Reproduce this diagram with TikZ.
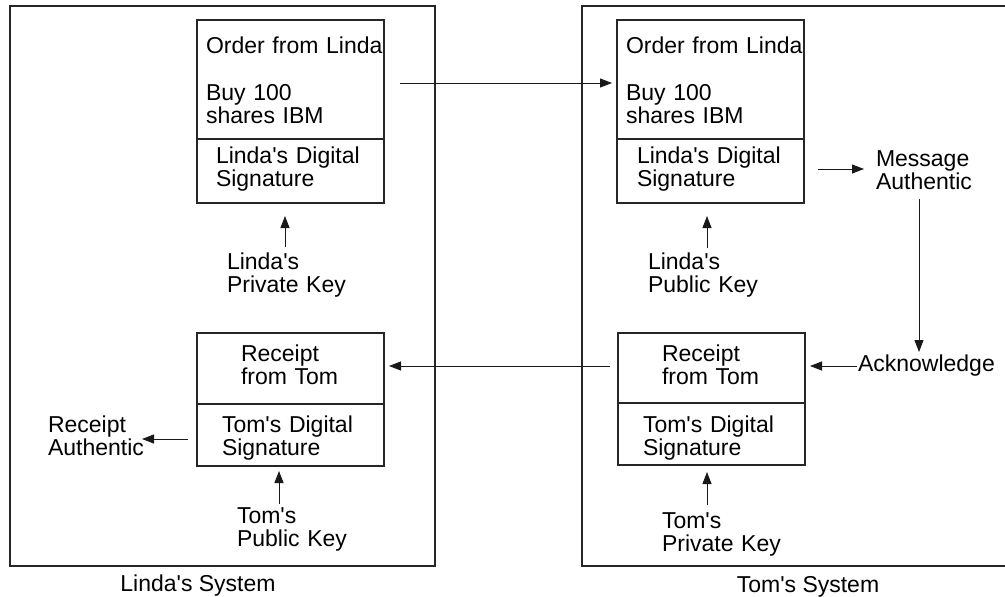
\documentclass[tikz,border=0pt]{standalone}
\usepackage{fontspec}
\setmainfont{Liberation Sans}
\usetikzlibrary{arrows.meta}
\newcommand{\dfs}{\fontsize{23}{23.5}\selectfont}
\newcommand{\ap}{\textquotesingle}
\begin{document}
\begin{tikzpicture}[x=1pt,y=-1pt,
  sysline/.style={line width=1.4pt,draw=black!85},
  boxline/.style={draw=black!85,line width=1.4pt,inner sep=0pt,outer sep=0pt},
  txt/.style={inner sep=0pt,outer sep=0pt,anchor=base west,align=left,text width=220pt,font=\dfs},
  ctxt/.style={inner sep=0pt,outer sep=0pt,anchor=base,font=\dfs},
  arr/.style={line width=1pt,draw=black!90,-{Triangle[length=12pt,width=9pt]}}]
\useasboundingbox (0,0) rectangle (1005,597);
% systems
\draw[sysline] (10,6) rectangle (435,566);
\draw[sysline] (1006,6) -- (582,6) -- (582,566) -- (1006,566);
% boxes: left top
\node[boxline,anchor=north west,minimum width=187pt,minimum height=119pt] (ltop) at (197,20) {};
\node[boxline,anchor=north west,minimum width=187pt,minimum height=64pt] (lsig) at (ltop.south west) {};
% right top
\node[boxline,anchor=north west,minimum width=187pt,minimum height=119pt] (rtop) at (617,20) {};
\node[boxline,anchor=north west,minimum width=187pt,minimum height=64pt] (rsig) at (rtop.south west) {};
% right bottom
\node[boxline,anchor=north west,minimum width=187pt,minimum height=70pt] (rrec) at (618,333) {};
\node[boxline,anchor=north west,minimum width=187pt,minimum height=62pt] (rtsig) at (rrec.south west) {};
% left bottom
\node[boxline,anchor=north west,minimum width=187pt,minimum height=71pt] (lrec) at (197,333) {};
\node[boxline,anchor=north west,minimum width=187pt,minimum height=62pt] (ltsig) at (lrec.south west) {};
% texts left
\node[txt] (lorder) at (206,53) {Order from Linda};
\node[txt] (lbuy) at (206,100) {Buy 100\\shares IBM};
\node[txt] (ldsig) at (216,163) {Linda\ap s Digital\\Signature};
\node[txt] (lpriv) at (227,269) {Linda\ap s\\Private Key};
\node[txt] (lreceipt) at (241,361) {Receipt\\from Tom};
\node[txt] (ltdsig) at (222,432) {Tom\ap s Digital\\Signature};
\node[txt] (tpub) at (237,523) {Tom\ap s\\Public Key};
\node[txt] (rauth) at (48,432) {Receipt\\Authentic};
\node[ctxt] (lsys) at (198,591) {Linda\ap s System};
% texts right
\node[txt] (rorder) at (626,53) {Order from Linda};
\node[txt] (rbuy) at (626,100) {Buy 100\\shares IBM};
\node[txt] (rdsig) at (637,163) {Linda\ap s Digital\\Signature};
\node[txt] (lpub) at (648,269) {Linda\ap s\\Public Key};
\node[txt] (mauth) at (876,166) {Message\\Authentic};
\node[txt] (ack) at (858,371) {Acknowledge};
\node[txt] (rreceipt) at (662,361) {Receipt\\from Tom};
\node[txt] (rtdsig) at (643,432) {Tom\ap s Digital\\Signature};
\node[txt] (tpriv) at (662,528) {Tom\ap s\\Private Key};
\node[ctxt] (tsys) at (808,592) {Tom\ap s System};
% connector coordinates
\coordinate (s1) at (400,83);  \coordinate (e1) at (612,83);
\coordinate (s2) at (285,247); \coordinate (e2) at (285,216);
\coordinate (s3) at (707,248); \coordinate (e3) at (707,216);
\coordinate (s4) at (818,169); \coordinate (e4) at (864,169);
\coordinate (s5) at (919,199); \coordinate (e5) at (919,352);
\coordinate (s6) at (857,366); \coordinate (e6) at (810,366);
\coordinate (s7) at (610,366); \coordinate (e7) at (389,366);
\coordinate (s8) at (707,505); \coordinate (e8) at (707,472);
\coordinate (s9) at (279,504); \coordinate (e9) at (279,471);
\coordinate (s10) at (188,439); \coordinate (e10) at (142,439);
% connectors
\draw[arr] (s1) -- (e1);
\draw[arr] (s2) -- (e2);
\draw[arr] (s3) -- (e3);
\draw[arr] (s4) -- (e4);
\draw[arr] (s5) -- (e5);
\draw[arr] (s6) -- (e6);
\draw[arr] (s7) -- (e7);
\draw[arr] (s8) -- (e8);
\draw[arr] (s9) -- (e9);
\draw[arr] (s10) -- (e10);
\end{tikzpicture}
\end{document}
